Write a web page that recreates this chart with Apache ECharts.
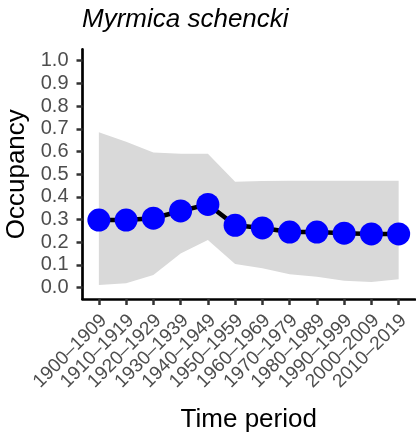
<!DOCTYPE html>
<html>
<head>
<meta charset="utf-8">
<script src="https://cdn.jsdelivr.net/npm/echarts@6/dist/echarts.min.js"></script>
<style>
  html, body { margin: 0; padding: 0; background: #fff; }
  #chart { width: 416px; height: 439px; }
</style>
</head>
<body>
<div id="chart"></div>
<script>
// Occupancy estimates per decade with credible interval band
const periods = ['1900–1909', '1910–1919', '1920–1929', '1930–1939', '1940–1949', '1950–1959',
                 '1960–1969', '1970–1979', '1980–1989', '1990–1999', '2000–2009', '2010–2019'];
const occupancy = [0.298, 0.298, 0.306, 0.338, 0.367, 0.275, 0.263, 0.245, 0.245, 0.240, 0.237, 0.237];
const lowerBound = [0.012, 0.019, 0.056, 0.151, 0.210, 0.104, 0.085, 0.059, 0.048, 0.030, 0.025, 0.037];
const upperBound = [0.685, 0.643, 0.596, 0.590, 0.590, 0.467, 0.470, 0.471, 0.471, 0.471, 0.471, 0.471];
const yTicks = [0.0, 0.1, 0.2, 0.3, 0.4, 0.5, 0.6, 0.7, 0.8, 0.9, 1.0];

const xIdx = periods.map((_, i) => i);
const font = 'Liberation Sans, Arial, Helvetica, sans-serif';

// Rotated period labels hang from the top-right corner of their box, so the
// label-only axis is nudged a fraction of a slot to the right of the tick axis.
const xMin = -0.6, xMax = 11.6, labelNudge = 0.18;

const chart = echarts.init(document.getElementById('chart'), null, { renderer: 'canvas' });

const bandData = periods.map((_, i) => [i, lowerBound[i], upperBound[i]]);

chart.setOption({
  animation: false,
  backgroundColor: '#ffffff',
  title: {
    text: 'Myrmica schencki',
    left: 82,
    top: 7,
    padding: 0,
    textStyle: { fontFamily: font, fontStyle: 'italic', fontWeight: 'normal', fontSize: 26, color: '#000' }
  },
  grid: { left: 82.5, right: 1, top: 49.4, bottom: 140, containLabel: false, outerBoundsMode: 'none' },
  xAxis: [
    {
      type: 'value',
      position: 'bottom',
      min: xMin,
      max: xMax,
      name: 'Time period',
      nameLocation: 'middle',
      nameGap: 108,
      nameTextStyle: { fontFamily: font, fontSize: 26, color: '#000' },
      axisLine: { show: true, onZero: false, lineStyle: { color: '#000', width: 2.7 } },
      axisTick: { show: true, customValues: xIdx, length: 6, lineStyle: { color: '#333', width: 2.5 } },
      axisLabel: { show: false },
      splitLine: { show: false }
    },
    {
      type: 'value',
      position: 'bottom',
      offset: 0,
      min: xMin - labelNudge,
      max: xMax - labelNudge,
      axisLine: { show: false },
      axisTick: { show: false },
      axisLabel: {
        customValues: xIdx,
        rotate: 45,
        margin: 18.5,
        fontFamily: font,
        fontSize: 19,
        color: '#4d4d4d',
        formatter: v => periods[Math.round(v)]
      },
      splitLine: { show: false }
    }
  ],
  yAxis: {
    type: 'value',
    min: -0.05,
    max: 1.05,
    name: 'Occupancy',
    nameLocation: 'middle',
    nameGap: 49,
    nameTextStyle: { fontFamily: font, fontSize: 26, color: '#000' },
    axisLine: { show: true, onZero: false, lineStyle: { color: '#000', width: 2.7 } },
    axisTick: { show: true, customValues: yTicks, length: 6, lineStyle: { color: '#333', width: 2.5 } },
    axisLabel: {
      customValues: yTicks,
      margin: 14,
      showMinLabel: true,
      showMaxLabel: true,
      fontFamily: font,
      fontSize: 20,
      color: '#4d4d4d',
      formatter: v => v.toFixed(1)
    },
    splitLine: { show: false }
  },
  series: [
    {
      type: 'custom',
      silent: true,
      z: 1,
      xAxisIndex: 0,
      data: bandData,
      encode: { x: 0, y: [1, 2] },
      renderItem: function (params, api) {
        if (params.dataIndex !== 0) return null;
        const pts = [];
        for (let i = 0; i < bandData.length; i++) pts.push(api.coord([bandData[i][0], bandData[i][2]]));
        for (let i = bandData.length - 1; i >= 0; i--) pts.push(api.coord([bandData[i][0], bandData[i][1]]));
        return { type: 'polygon', shape: { points: pts }, style: { fill: '#d9d9d9' } };
      }
    },
    {
      type: 'line',
      z: 3,
      xAxisIndex: 0,
      data: occupancy.map((v, i) => [i, v]),
      symbol: 'circle',
      symbolSize: 23,
      lineStyle: { color: '#000', width: 4.5 },
      itemStyle: { color: '#0000ff', borderWidth: 0 }
    }
  ]
});
</script>
</body>
</html>
